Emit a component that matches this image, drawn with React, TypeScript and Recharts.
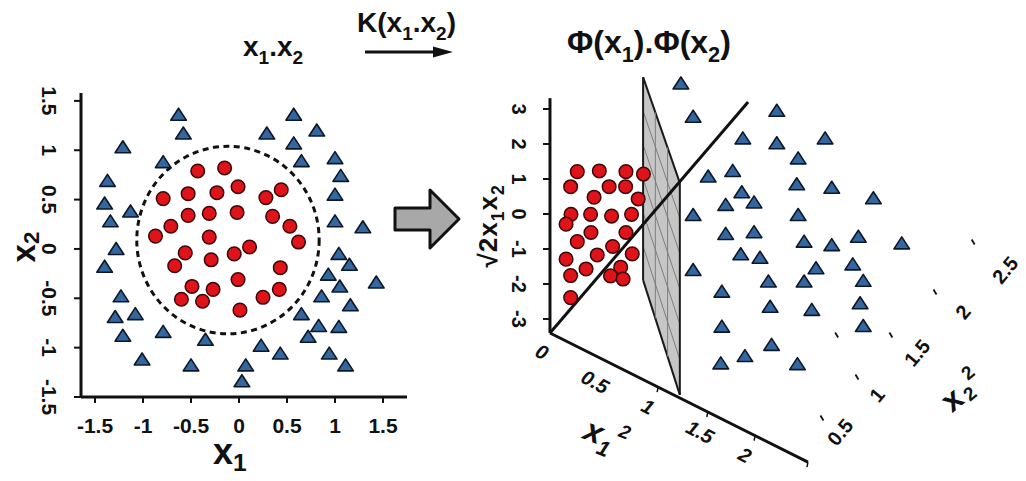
import {
  Area,
  ComposedChart,
  ReferenceDot,
  ReferenceLine,
  Scatter,
  ScatterChart,
  XAxis,
  YAxis,
} from "recharts";

const FONT = '"Liberation Sans", Arial, sans-serif';

// ---- input space (x1, x2) ----
const inputTicks = [-1.5, -1, -0.5, 0, 0.5, 1, 1.5];

// class A: inside the circular boundary
const inputCircles: [number, number][] = [
  [-0.43, 0.79], [-0.15, 0.82], [-0.79, 0.51], [-0.53, 0.56], [-0.23, 0.57],
  [-0.01, 0.63], [0.28, 0.52], [0.44, 0.6], [-0.53, 0.34], [-0.31, 0.36],
  [-0.02, 0.37], [0.35, 0.33], [-0.71, 0.23], [-0.87, 0.13], [0.53, 0.23],
  [0.62, 0.07], [-0.31, 0.12], [0.11, 0.02], [-0.05, -0.05], [-0.56, -0.04],
  [-0.29, -0.11], [-0.67, -0.17], [0.43, -0.19], [-0.01, -0.31], [-0.49, -0.38],
  [-0.27, -0.41], [-0.6, -0.51], [-0.38, -0.53], [0.25, -0.49], [0.42, -0.41],
  [0.01, -0.62],
];

// class B: outside the boundary
const inputTriangles: [number, number][] = [
  [-0.63, 1.36], [-0.58, 1.17], [0.57, 1.36], [0.81, 1.2], [0.29, 1.17],
  [0.57, 1.07], [-1.21, 1.03], [0.65, 0.89], [1.0, 0.92], [-0.79, 0.88],
  [1.06, 0.74], [-1.37, 0.69], [1.0, 0.55], [-1.4, 0.46], [-1.13, 0.38],
  [-1.34, 0.28], [1.0, 0.28], [1.29, 0.22], [-1.28, 0.0], [1.04, -0.05],
  [-1.4, -0.18], [1.15, -0.16], [0.93, -0.26], [1.43, -0.34], [1.05, -0.38],
  [-1.23, -0.48], [0.86, -0.48], [1.16, -0.57], [-1.29, -0.69], [-1.08, -0.66],
  [0.65, -0.66], [0.83, -0.78], [1.04, -0.79], [-1.21, -0.88], [-0.79, -0.84],
  [-0.35, -0.92], [0.72, -0.89], [0.23, -0.98], [0.43, -1.06], [0.94, -1.06],
  [-1.01, -1.12], [-0.5, -1.18], [0.07, -1.18], [1.11, -1.18], [0.03, -1.34],
];

// decision boundary: centre and radius in (x1, x2) units
const boundaryCentre: [number, number] = [-0.115, 0.09];
const boundaryRadius = 0.95;

// ---- feature space, drawn in projected (u, v) units; v is the sqrt(2)x1x2 axis ----
const phiTicks = [3, 2, 1, 0, -1, -2, -3];

const featureCircles: [number, number][] = [
  [0.78, 1.21], [1.41, 1.23], [2.17, 1.21], [2.67, 1.14], [0.59, 0.78],
  [1.69, 0.78], [2.16, 0.78], [1.26, 0.48], [2.52, 0.43], [0.6, -0.01],
  [1.16, -0.01], [1.76, -0.06], [2.33, -0.01], [0.46, -0.29], [1.17, -0.53],
  [2.17, -0.53], [0.78, -0.79], [1.79, -0.93], [0.46, -1.29], [1.35, -1.17],
  [2.35, -1.14], [1.03, -1.57], [0.59, -1.76], [2.02, -1.52], [1.73, -1.77],
  [2.09, -1.86], [0.59, -2.39],
];

const featureTriangles: [number, number][] = [
  [3.74, 3.73], [4.09, 2.78], [4.09, -0.03], [4.09, -1.6], [6.48, 2.95],
  [5.51, 2.16], [6.48, 2.02], [7.86, 2.16], [7.09, 1.59], [4.52, 1.07],
  [5.22, 1.23], [7.05, 0.85], [8.05, 0.75], [9.24, 0.45], [5.48, 0.62],
  [5.83, 0.33], [5.02, 0.26], [7.09, -0.03], [5.02, -0.57], [5.83, -0.52],
  [7.26, -0.79], [8.05, -0.89], [8.81, -0.65], [10.05, -0.84], [5.45, -1.15],
  [6.0, -1.25], [7.6, -1.55], [8.65, -1.44], [6.24, -1.93], [7.26, -1.93],
  [8.95, -1.91], [4.91, -2.22], [6.29, -2.65], [7.48, -2.74], [8.86, -2.55],
  [4.91, -3.22], [8.95, -3.2], [6.33, -3.74], [5.57, -4.06], [4.88, -4.27],
  [7.07, -4.29],
];

// projected axes of the 3-D feature box
const origin = { u: 0, v: -3.4 };
const phiAxisTop = { u: 0, v: 3.31 };
const diagonalEnd = { u: 5.66, v: 3.2 };
const x1SqAxisEnd = { u: 7.37, v: -7.09 };

const x1SqLabels = [
  { label: "0", u: -0.23, v: -3.94 },
  { label: "0.5", u: 1.29, v: -4.8 },
  { label: "1", u: 2.8, v: -5.51 },
  { label: "1.5", u: 4.29, v: -6.23 },
  { label: "2", u: 5.57, v: -6.89 },
];
const x1SqMarks = [3.09, 4.51, 5.86, 7.37];

const x2SqLabels = [
  { label: "0.5", u: 8.29, v: -6.23 },
  { label: "1", u: 9.34, v: -5.17 },
  { label: "1.5", u: 10.49, v: -3.97 },
  { label: "2", u: 11.8, v: -2.8 },
  { label: "2.5", u: 13.0, v: -1.6 },
];
const x2SqMarks: [number, number][] = [
  [7.77, -5.83], [8.77, -4.66], [8.19, -3.46], [9.74, -3.46], [11.0, -2.23], [12.09, -0.8],
];

// separating plane: two vertical edges, each given as [bottom, top]
const planeRows = [
  { u: 2.66, span: [-1.89, 3.91] },
  { u: 3.71, span: [-5.17, 0.89] },
];

const toPoints = (rows: [number, number][]) => rows.map(([x, y]) => ({ x, y }));
const toFeature = (rows: [number, number][]) => rows.map(([u, v]) => ({ u, v }));

type Part = { t: string; sub?: boolean; sup?: boolean };
function rich(parts: Part[], size: number, subShift = 0.28) {
  let shift = 0;
  return parts.map((p, i) => {
    const target = p.sub ? size * subShift : p.sup ? -size * 0.42 : 0;
    const dy = target - shift;
    shift = target;
    return (
      <tspan key={i} dy={dy} fontSize={p.sub || p.sup ? size * 0.68 : size}>
        {p.t}
      </tspan>
    );
  });
}

const RedDot = (p: any) => (
  <circle cx={p.cx} cy={p.cy} r={6.8} fill="#e0121a" stroke="#3a0808" strokeWidth={1.5} />
);

const BlueTriangle = (p: any) => (
  <path
    d={`M${p.cx},${p.cy - 6.5} L${p.cx + 7.8},${p.cy + 5.5} L${p.cx - 7.8},${p.cy + 5.5} Z`}
    fill="#3467a0"
    stroke="#0c1828"
    strokeWidth={1.6}
    strokeLinejoin="round"
  />
);

const tickFont = { fontFamily: FONT, fontWeight: 700, fill: "#111" };

const InputXTick = (p: any) => (
  <text x={p.x} y={p.y + 20} textAnchor="middle" dominantBaseline="central" fontSize={21} {...tickFont}>
    {p.payload.value}
  </text>
);

const InputYTick = (p: any) => {
  const cx = p.x - 23;
  return (
    <text
      x={cx}
      y={p.y}
      transform={`rotate(90 ${cx} ${p.y})`}
      textAnchor="middle"
      dominantBaseline="central"
      fontSize={21}
      {...tickFont}
    >
      {p.payload.value}
    </text>
  );
};

// plot area of the input chart, used to turn the boundary radius into pixels
const IN_W = 420;
const IN_H = 481;
const IN_MARGIN = { top: 93, right: 13, bottom: 54, left: 31 };
const IN_X_DOMAIN: [number, number] = [-1.646, 1.75];
const IN_Y_DOMAIN: [number, number] = [-1.5, 1.58];
const inPlotW = IN_W - IN_MARGIN.left - IN_MARGIN.right - 50;
const inPlotH = IN_H - IN_MARGIN.top - IN_MARGIN.bottom - 30;
const boundaryRx = (boundaryRadius * inPlotW) / (IN_X_DOMAIN[1] - IN_X_DOMAIN[0]);
const boundaryRy = (boundaryRadius * inPlotH) / (IN_Y_DOMAIN[1] - IN_Y_DOMAIN[0]);

function InputChart() {
  return (
    <ScatterChart width={IN_W} height={IN_H} margin={IN_MARGIN}>
      <XAxis
        type="number"
        dataKey="x"
        domain={IN_X_DOMAIN}
        ticks={inputTicks}
        interval={0}
        allowDataOverflow
        height={30}
        axisLine={{ stroke: "#111", strokeWidth: 3 }}
        tickLine={{ stroke: "#111", strokeWidth: 2 }}
        tickSize={6}
        tick={InputXTick}
      />
      <YAxis
        type="number"
        dataKey="y"
        domain={IN_Y_DOMAIN}
        ticks={inputTicks}
        interval={0}
        allowDataOverflow
        width={50}
        axisLine={{ stroke: "#111", strokeWidth: 3 }}
        tickLine={{ stroke: "#111", strokeWidth: 2 }}
        tickSize={7}
        tick={InputYTick}
      />
      <ReferenceDot
        x={boundaryCentre[0]}
        y={boundaryCentre[1]}
        r={0}
        shape={(p: any) => (
          <ellipse
            cx={p.cx}
            cy={p.cy}
            rx={boundaryRx}
            ry={boundaryRy}
            fill="none"
            stroke="#111"
            strokeWidth={3}
            strokeDasharray="6 4.5"
          />
        )}
      />
      <Scatter data={toPoints(inputTriangles)} shape={BlueTriangle} isAnimationActive={false} />
      <Scatter data={toPoints(inputCircles)} shape={RedDot} isAnimationActive={false} />
    </ScatterChart>
  );
}

const label = (
  content: React.ReactNode,
  opts: { size?: number; rotate?: number; italic?: boolean; anchor?: string; baseline?: string } = {}
) =>
  (p: any) => (
    <text
      x={p.cx}
      y={p.cy}
      transform={opts.rotate ? `rotate(${opts.rotate} ${p.cx} ${p.cy})` : undefined}
      textAnchor={opts.anchor ?? "middle"}
      dominantBaseline={opts.baseline ?? "central"}
      fontSize={opts.size ?? 20}
      fontStyle={opts.italic ? "italic" : "normal"}
      {...tickFont}
    >
      {content}
    </text>
  );

const lerp = (a: number, b: number, t: number) => a + (b - a) * t;

// feature chart: 35px per unit on both axes, u = 0 at page x 550
const FE_LEFT = 460;
const FE_W = 566;

function FeatureChart() {
  const [l, r] = planeRows;
  const planeVerticals = [1 / 3, 2 / 3].map((t) => ({
    u: lerp(l.u, r.u, t),
    lo: lerp(l.span[0], r.span[0], t),
    hi: lerp(l.span[1], r.span[1], t),
  }));
  const planeDiagonals = [1, 2, 3, 4, 5].map((k) => ({
    a: lerp(l.span[1], l.span[0], k / 6),
    b: lerp(r.span[1], r.span[0], k / 6),
  }));
  const axisStroke = { stroke: "#111", strokeWidth: 3 };
  const gridStroke = { stroke: "#7d7d7d", strokeWidth: 1 };

  return (
    <ComposedChart width={FE_W} height={421} data={planeRows} margin={{ top: 0, right: 0, bottom: 0, left: 0 }}>
      <XAxis type="number" dataKey="u" domain={[-2.571, 13.6]} allowDataOverflow hide />
      <YAxis type="number" dataKey="v" domain={[-7.63, 4.4]} allowDataOverflow hide />

      <Area
        type="linear"
        dataKey="span"
        fill="#c6c6c6"
        fillOpacity={1}
        stroke="#1a1a1a"
        strokeWidth={2}
        dot={false}
        activeDot={false}
        isAnimationActive={false}
      />
      {planeVerticals.map((g, i) => (
        <ReferenceLine key={`pv${i}`} segment={[{ x: g.u, y: g.lo }, { x: g.u, y: g.hi }]} {...gridStroke} />
      ))}
      {planeDiagonals.map((g, i) => (
        <ReferenceLine key={`pd${i}`} segment={[{ x: l.u, y: g.a }, { x: r.u, y: g.b }]} {...gridStroke} />
      ))}
      {planeRows.map((row, i) => (
        <ReferenceLine
          key={`pe${i}`}
          segment={[{ x: row.u, y: row.span[0] }, { x: row.u, y: row.span[1] }]}
          stroke="#1a1a1a"
          strokeWidth={2}
        />
      ))}

      <ReferenceLine segment={[{ x: origin.u, y: origin.v }, { x: phiAxisTop.u, y: phiAxisTop.v }]} {...axisStroke} />
      <ReferenceLine segment={[{ x: origin.u, y: origin.v }, { x: diagonalEnd.u, y: diagonalEnd.v }]} {...axisStroke} />
      <ReferenceLine segment={[{ x: origin.u, y: origin.v }, { x: x1SqAxisEnd.u, y: x1SqAxisEnd.v }]} {...axisStroke} />

      {phiTicks.map((t) => (
        <ReferenceLine key={`pt${t}`} segment={[{ x: -0.2, y: t }, { x: 0, y: t }]} stroke="#111" strokeWidth={2} />
      ))}
      {phiTicks.map((t) => (
        <ReferenceDot key={`pl${t}`} x={-0.886} y={t} r={0} shape={label(String(t), { rotate: 90 })} />
      ))}
      <ReferenceDot
        x={-1.51}
        y={-0.34}
        r={0}
        shape={(p: any) => (
          <text
            x={p.cx}
            y={p.cy}
            transform={`rotate(-90 ${p.cx} ${p.cy})`}
            textAnchor="middle"
            {...tickFont}
            fontSize={26}
            letterSpacing={1}
          >
            {rich([{ t: "√2x" }, { t: "1", sub: true }, { t: "x" }, { t: "2", sub: true }], 26)}
          </text>
        )}
      />

      {x1SqMarks.map((u) => (
        <ReferenceDot
          key={`m1${u}`}
          x={u}
          y={lerp(origin.v, x1SqAxisEnd.v, u / x1SqAxisEnd.u)}
          r={0}
          shape={(p: any) => <line x1={p.cx} y1={p.cy} x2={p.cx - 1} y2={p.cy + 5} stroke="#111" strokeWidth={1.5} />}
        />
      ))}
      {x1SqLabels.map((d) => (
        <ReferenceDot key={`l1${d.label}`} x={d.u} y={d.v} r={0} shape={label(d.label, { rotate: 28, italic: true })} />
      ))}
      <ReferenceDot
        x={0.91}
        y={-6.4}
        r={0}
        shape={label(rich([{ t: "x" }, { t: "1", sub: true }], 32), { rotate: 22, italic: true, anchor: "start", baseline: "auto" })}
      />
      <ReferenceDot x={2.14} y={-6.23} r={0} shape={label("2", { size: 19, rotate: 22, italic: true })} />

      {x2SqMarks.map(([u, v]) => (
        <ReferenceDot
          key={`m2${u}${v}`}
          x={u}
          y={v}
          r={0}
          shape={(p: any) => (
            <line x1={p.cx - 1.5} y1={p.cy - 2.5} x2={p.cx + 1.5} y2={p.cy + 2.5} stroke="#111" strokeWidth={1.8} />
          )}
        />
      ))}
      {x2SqLabels.map((d) => (
        <ReferenceDot key={`l2${d.label}`} x={d.u} y={d.v} r={0} shape={label(d.label, { rotate: -50 })} />
      ))}
      <ReferenceDot x={11.48} y={-5.3} r={0} shape={label("x", { size: 32, rotate: -40 })} />
      <ReferenceDot x={12.0} y={-5.13} r={0} shape={label("2", { size: 19, rotate: -40 })} />
      <ReferenceDot x={11.94} y={-4.53} r={0} shape={label("2", { size: 19, rotate: -40 })} />

      <Scatter data={toFeature(featureTriangles)} shape={BlueTriangle} isAnimationActive={false} />
      <Scatter data={toFeature(featureCircles)} shape={RedDot} isAnimationActive={false} />
    </ComposedChart>
  );
}

export default function App() {
  return (
    <div
      style={{
        position: "absolute",
        left: 0,
        top: 0,
        width: 1026,
        height: 481,
        background: "#fff",
        overflow: "hidden",
        fontFamily: FONT,
      }}
    >
      <div style={{ position: "absolute", left: 0, top: 0 }}>
        <InputChart />
      </div>
      <div style={{ position: "absolute", left: FE_LEFT, top: 60 }}>
        <FeatureChart />
      </div>
      <svg
        width={1026}
        height={481}
        style={{ position: "absolute", left: 0, top: 0, pointerEvents: "none" }}
      >
        <g {...tickFont}>
          <text x={243} y={56}>
            {rich([{ t: "x" }, { t: "1", sub: true }, { t: ".x" }, { t: "2", sub: true }], 28)}
          </text>
          <text x={357} y={32}>
            {rich([{ t: "K(x" }, { t: "1", sub: true }, { t: ".x" }, { t: "2", sub: true }, { t: ")" }], 28)}
          </text>
          <text x={567} y={53}>
            {rich(
              [{ t: "Φ(x" }, { t: "1", sub: true }, { t: ").Φ(x" }, { t: "2", sub: true }, { t: ")" }],
              32
            )}
          </text>
          <text x={213} y={464}>
            {rich([{ t: "x" }, { t: "1", sub: true }], 36, 0.2)}
          </text>
          <text transform="translate(35 247) rotate(-90)" textAnchor="middle">
            {rich([{ t: "x" }, { t: "2", sub: true }], 33, 0.12)}
          </text>
        </g>
        <line x1={365} y1={52} x2={436} y2={52} stroke="#111" strokeWidth={3} />
        <polygon points="433,46.5 453,52 433,57.5" fill="#111" />
        <polygon
          points="395,208 430,208 430,190 459,219 430,248 430,230 395,230"
          fill="#a8a8a8"
          stroke="#111"
          strokeWidth={3}
          strokeLinejoin="round"
        />
      </svg>
    </div>
  );
}
